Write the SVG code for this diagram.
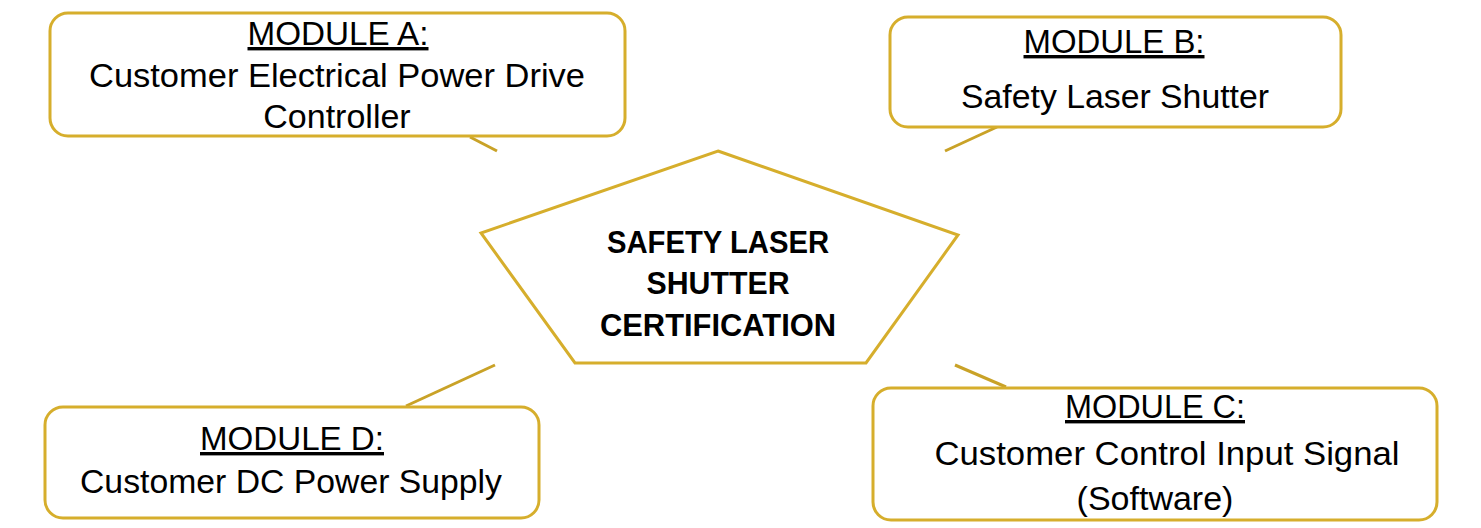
<svg xmlns="http://www.w3.org/2000/svg" width="1481" height="528" viewBox="0 0 1481 528">
<style>
.box{fill:#fff;stroke:#d6ae2c;stroke-width:3}
.tail{stroke:#c9a227;stroke-width:3;fill:none}
.t{font-family:"Liberation Sans",Arial,sans-serif;font-size:34px;fill:#000;text-anchor:middle}
.u{text-decoration:underline}
.b{font-family:"Liberation Sans",Arial,sans-serif;font-size:32px;font-weight:bold;fill:#000;text-anchor:middle}
</style>
<rect width="1481" height="528" fill="#fff"/>
<g id="connectors">
<line class="tail" x1="470" y1="137" x2="497" y2="151"/>
<line class="tail" x1="997" y1="127" x2="945" y2="151"/>
<line class="tail" x1="406" y1="406" x2="495" y2="365"/>
<line class="tail" x1="1006" y1="387" x2="955" y2="365"/>
</g>
<g id="center">
<polygon class="box" points="718,151 958,235 866,363 575,363 481,233"/>
<text class="b" x="718" y="253" textLength="222" lengthAdjust="spacingAndGlyphs">SAFETY LASER</text>
<text class="b" x="718" y="294" textLength="143" lengthAdjust="spacingAndGlyphs">SHUTTER</text>
<text class="b" x="718" y="336" textLength="236" lengthAdjust="spacingAndGlyphs">CERTIFICATION</text>
</g>
<g id="moduleA">
<rect class="box" x="50" y="13" width="575" height="123" rx="18"/>
<text class="t u" x="338" y="45" textLength="181" lengthAdjust="spacingAndGlyphs">MODULE A:</text>
<text class="t" x="337" y="87" textLength="496" lengthAdjust="spacingAndGlyphs">Customer Electrical Power Drive</text>
<text class="t" x="337" y="128">Controller</text>
</g>
<g id="moduleB">
<rect class="box" x="890" y="17" width="451" height="110" rx="18"/>
<text class="t u" x="1114" y="53" textLength="181" lengthAdjust="spacingAndGlyphs">MODULE B:</text>
<text class="t" x="1115" y="108" textLength="308" lengthAdjust="spacingAndGlyphs">Safety Laser Shutter</text>
</g>
<g id="moduleD">
<rect class="box" x="45" y="407" width="494" height="111" rx="18"/>
<text class="t u" x="292" y="450" textLength="184" lengthAdjust="spacingAndGlyphs">MODULE D:</text>
<text class="t" x="291" y="493" textLength="422" lengthAdjust="spacingAndGlyphs">Customer DC Power Supply</text>
</g>
<g id="moduleC">
<rect class="box" x="873" y="388" width="564" height="132" rx="18"/>
<text class="t u" x="1155" y="418" textLength="180" lengthAdjust="spacingAndGlyphs">MODULE C:</text>
<text class="t" x="1167" y="465" textLength="465" lengthAdjust="spacingAndGlyphs">Customer Control Input Signal</text>
<text class="t" x="1155" y="510">(Software)</text>
</g>
</svg>
